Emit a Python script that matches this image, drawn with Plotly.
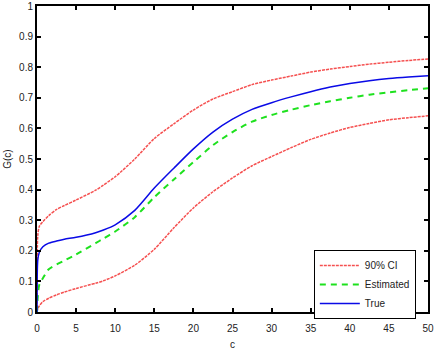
import plotly.graph_objects as go

c = [0, 0.1, 0.3, 0.75, 1.5, 2.5, 3.5, 5, 7.5, 8.5, 10, 12.5, 15, 17.5, 20,
     22.5, 25, 27.5, 30, 32.5, 35, 37.5, 40, 42.5, 45, 47.5, 50]

g_true = [0, 0.17, 0.195, 0.213, 0.225, 0.232, 0.238, 0.244, 0.259, 0.268, 0.285,
          0.332, 0.405, 0.47, 0.533, 0.588, 0.63, 0.662, 0.684, 0.703, 0.72, 0.735,
          0.747, 0.756, 0.763, 0.768, 0.772]

g_est = [0, 0.05, 0.09, 0.11, 0.14, 0.155, 0.168, 0.188, 0.225, 0.24, 0.263,
         0.31, 0.375, 0.433, 0.49, 0.545, 0.588, 0.622, 0.644, 0.661, 0.676, 0.689,
         0.70, 0.71, 0.718, 0.725, 0.731]

ci_upper = [0, 0.25, 0.28, 0.295, 0.315, 0.335, 0.348, 0.366, 0.398, 0.415, 0.442,
            0.50, 0.567, 0.615, 0.66, 0.696, 0.72, 0.743, 0.758, 0.771, 0.784, 0.794,
            0.802, 0.81, 0.816, 0.822, 0.827]

ci_lower = [0, 0.01, 0.02, 0.034, 0.045, 0.056, 0.065, 0.077, 0.094, 0.102, 0.118,
            0.153, 0.205, 0.275, 0.34, 0.393, 0.438, 0.478, 0.508, 0.537, 0.564, 0.585,
            0.603, 0.616, 0.628, 0.635, 0.641]

x_ticks = [0, 5, 10, 15, 20, 25, 30, 35, 40, 45, 50]
y_ticks = [0, 0.1, 0.2, 0.3, 0.4, 0.5, 0.6, 0.7, 0.8, 0.9, 1]
y_tick_text = ["0", "0.1", "0.2", "0.3", "0.4", "0.5", "0.6", "0.7", "0.8", "0.9", "1"]

RED = "rgb(245,80,80)"
GREEN = "rgb(30,225,30)"
BLUE = "rgb(10,10,230)"
FONT = "Liberation Sans, Arial, sans-serif"

fig = go.Figure()
fig.add_trace(go.Scatter(x=c, y=ci_upper, mode="lines", name="90% CI", legendrank=1,
                         line=dict(color=RED, width=1.5, dash="3px,1px", shape="spline", smoothing=0.7)))
fig.add_trace(go.Scatter(x=c, y=ci_lower, mode="lines", showlegend=False,
                         line=dict(color=RED, width=1.5, dash="3px,1px", shape="spline", smoothing=0.7)))
fig.add_trace(go.Scatter(x=c, y=g_est, mode="lines", name="Estimated", legendrank=2,
                         line=dict(color=GREEN, width=2, dash="6px,5px", shape="spline", smoothing=0.7)))
fig.add_trace(go.Scatter(x=c, y=g_true, mode="lines", name="True", legendrank=3,
                         line=dict(color=BLUE, width=1.5, shape="spline", smoothing=0.7)))

axis_common = dict(showline=True, linecolor="black", linewidth=2, mirror="ticks",
                   ticks="inside", ticklen=4, tickwidth=1.5, tickcolor="black",
                   showgrid=False, zeroline=False, automargin=False,
                   tickfont=dict(family=FONT, size=10, color="#222"))

fig.update_layout(
    width=435, height=350,
    margin=dict(l=37, r=7, t=6, b=38),
    paper_bgcolor="white", plot_bgcolor="white",
    font=dict(family=FONT, size=10, color="#222"),
    xaxis=dict(range=[0, 50], tickvals=x_ticks, ticklabelstandoff=6,
               title=dict(text="c", standoff=10, font=dict(size=10)), **axis_common),
    yaxis=dict(range=[0, 1], tickvals=y_ticks, ticktext=y_tick_text,
               title=dict(text="G(c)", standoff=6, font=dict(size=10)), **axis_common),
    legend=dict(x=0.708, y=0.203, xanchor="left", yanchor="top", itemwidth=40,
                bgcolor="white", bordercolor="black", borderwidth=1,
                font=dict(size=10, color="#222"), tracegroupgap=0),
)

fig.write_html("out.html")
